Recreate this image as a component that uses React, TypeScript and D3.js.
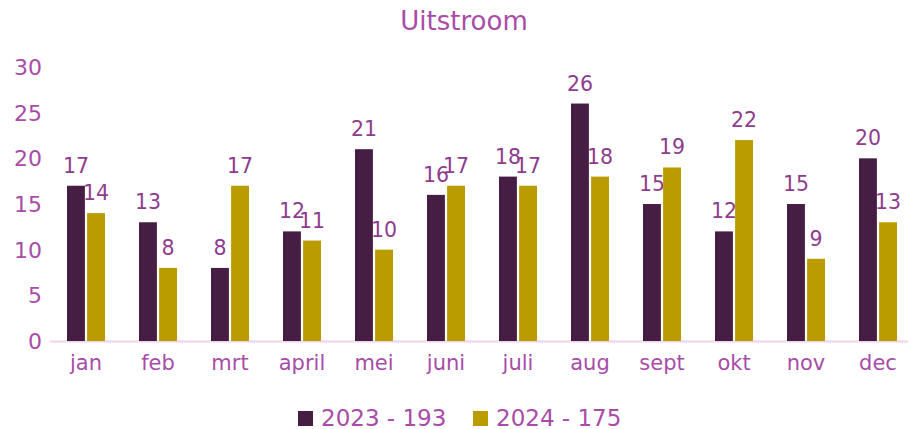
import React from "react";
import * as d3 from "d3";

const months = ["jan", "feb", "mrt", "april", "mei", "juni", "juli", "aug", "sept", "okt", "nov", "dec"];
const series2023 = [17, 13, 8, 12, 21, 16, 18, 26, 15, 12, 15, 20];
const series2024 = [14, 8, 17, 11, 10, 17, 17, 18, 19, 22, 9, 13];
const seriesNames = ["2023 - 193", "2024 - 175"];
const yTicks = [0, 5, 10, 15, 20, 25, 30];

const W = 909, H = 429;
const left = 50, right = 908, top = 67, bottom = 341;
const colors = ["#461E43", "#BB9C00"];
const font = "DejaVu Sans, sans-serif";
const tickColor = "#A84CA8";
const labelColor = "#8E3C8E";

export default function App() {
  const x = d3.scaleBand<string>().domain(months).range([left, left + 72 * 12]);
  const x1 = d3.scaleBand<number>().domain([0, 1]).range([0, 38]).paddingInner(0.11);
  const y = d3.scaleLinear().domain([0, 30]).range([bottom, top]);
  const data = [series2023, series2024];
  const bw = x1.bandwidth();

  return (
    <svg width={W} height={H} style={{ position: "absolute", left: 0, top: 0 }} fontFamily={font}>
      <text x={464} y={30} textAnchor="middle" fontSize={26} fill="#A84CA8">Uitstroom</text>
      {yTicks.map((t) => (
        <text key={t} x={42} y={y(t) + 8} textAnchor="end" fontSize={22} fill={tickColor}>{t}</text>
      ))}
      <line x1={left} x2={right} y1={bottom + 0.5} y2={bottom + 0.5} stroke="#EFD3EA" strokeWidth={2} />
      {months.map((m, i) => {
        const cx = (x(m) as number) + x.bandwidth() / 2;
        const g0 = cx - 19;
        return (
          <g key={m}>
            {data.map((s, k) => {
              const bx = g0 + (x1(k) as number);
              const v = s[i];
              return (
                <g key={k}>
                  <rect x={bx} y={y(v)} width={bw} height={bottom - y(v)} fill={colors[k]} />
                  <text x={bx + bw / 2} y={y(v) - 13} textAnchor="middle" fontSize={20.5} fill={labelColor}>{v}</text>
                </g>
              );
            })}
            <text x={cx} y={370} textAnchor="middle" fontSize={21} fill={tickColor}>{m}</text>
          </g>
        );
      })}
      {seriesNames.map((n, k) => {
        const lx = k === 0 ? 298 : 473;
        return (
          <g key={n}>
            <rect x={lx} y={411} width={15} height={15} fill={colors[k]} />
            <text x={lx + 23} y={426} fontSize={23} fill={tickColor}>{n}</text>
          </g>
        );
      })}
    </svg>
  );
}
